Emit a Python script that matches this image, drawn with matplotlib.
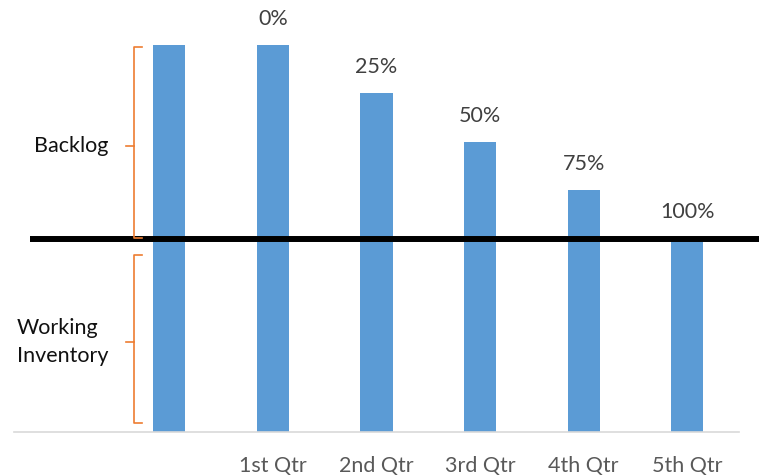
import matplotlib
matplotlib.use("Agg")
import matplotlib.pyplot as plt

# Data
categories = ["", "", "1st Qtr", "2nd Qtr", "3rd Qtr", "4th Qtr", "5th Qtr"]
working_inventory = 1.0
backlog = 1.0
# Share of the backlog worked off in each quarter (None = no label)
pct_done = [None, None, 0, 25, 50, 75, 100]
has_bar = [False, True, True, True, True, True, True]

plt.rcParams['font.family'] = ['Lato', 'DejaVu Sans']

fig = plt.figure(figsize=(7.61, 4.75), dpi=100)
ax = fig.add_axes([14 / 761, 43 / 475, 725 / 761, 432 / 475])

bar_color = "#5B9BD5"
x = list(range(len(categories)))
heights = []
for i, p in enumerate(pct_done):
    if not has_bar[i]:
        heights.append(0)
    elif p is None:
        heights.append(working_inventory + backlog)
    else:
        heights.append(working_inventory + backlog * (1 - p / 100))

ax.bar(x, heights, width=0.31, color=bar_color, zorder=2)

for i, p in enumerate(pct_done):
    if p is not None:
        ax.text(i, heights[i] + 0.135, f"{p}%", ha="center", va="center",
                fontsize=15.5, color="#404040")

# Divider between backlog and working inventory
ax.plot([-0.35, 6.69], [working_inventory, working_inventory], color="black",
        lw=4.3, solid_capstyle="butt", clip_on=False, zorder=3)

# Orange braces on the left
brace_color = "#ED7D31"

def brace(y0, y1, ym):
    xv, xa, xn = 0.656, 0.734, 0.579
    ax.plot([xa, xv, xv, xa], [y1, y1, y0, y0], color=brace_color, lw=1.2,
            zorder=3, solid_joinstyle="round")
    ax.plot([xn, xv], [ym, ym], color=brace_color, lw=1.2, zorder=3)

brace(1.003, 1.99, 1.478)
brace(0.047, 0.915, 0.465)

ax.text(-0.31, 1.478, "Backlog", ha="left", va="center", fontsize=15.5,
        color="#111111")
ax.text(-0.475, 0.465, "Working\nInventory", ha="left", va="center",
        fontsize=15.5, color="#111111", linespacing=1.45)

ax.set_xlim(-0.5, 6.5)
ax.set_ylim(0, 432 / 193.5)
ax.set_xticks(x)
ax.set_xticklabels(categories, fontsize=15.5, color="#595959")
ax.tick_params(axis="x", length=0, pad=17)
ax.set_yticks([])
for s in ["top", "right", "left"]:
    ax.spines[s].set_visible(False)
ax.spines["bottom"].set_color("#D9D9D9")
ax.spines["bottom"].set_linewidth(1.2)

fig.savefig("out.png", dpi=100)
